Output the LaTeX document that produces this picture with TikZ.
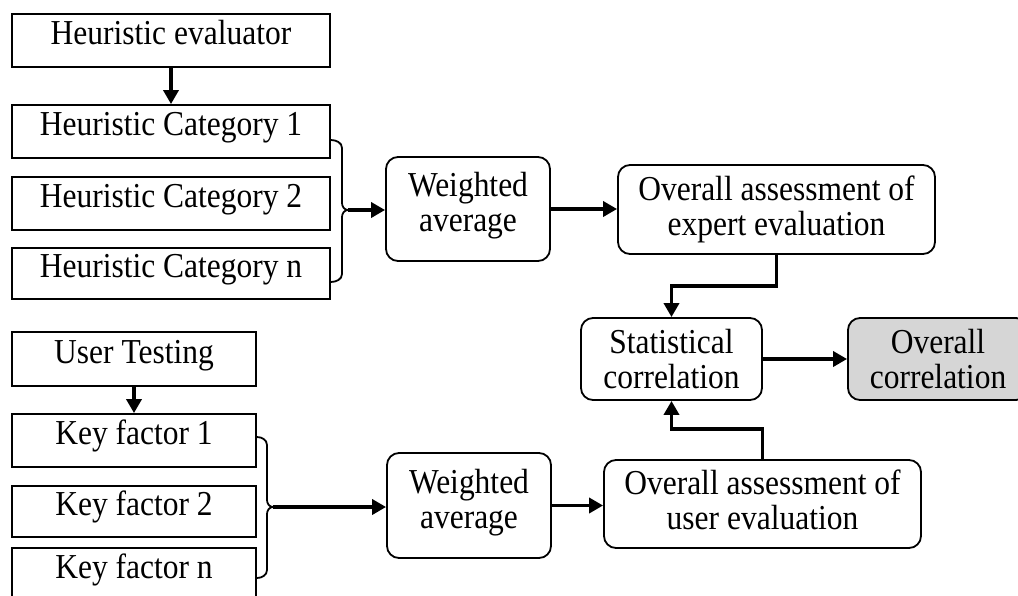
\documentclass[tikz,border=0pt]{standalone}
\usepackage{fontspec}
\setmainfont[FakeStretch=0.9]{Liberation Serif}
\usetikzlibrary{arrows.meta}
\definecolor{boxgray}{RGB}{214,214,214}
% extra depth below the last line, lifting a two-line label inside its box
\newcommand{\liftby}[1]{\rule[-#1]{0pt}{#1}}
\begin{document}
\begin{tikzpicture}[x=1pt,y=-1pt,
  every node/.style={font=\fontsize{35}{35}\selectfont, inner sep=0pt, align=center},
  sqbox/.style={draw, line width=1.8pt, text height=20pt, text depth=12pt},
  rbox/.style={draw, line width=1.8pt, rounded corners=12pt},
  brace/.style={draw, line width=1.8pt},
  arr/.style={line width=3.8pt, -{Triangle[length=14pt,width=15pt]}}]
\useasboundingbox (0,0) rectangle (1018,595);
\clip (0,0) rectangle (1018,595);
\fill[white] (0,0) rectangle (1018,595);

% expert branch
\node[sqbox, minimum width=318pt, minimum height=53pt] (he) at (171,40.5) {Heuristic evaluator};
\node[sqbox, minimum width=318pt, minimum height=53pt] (c1) at (171,131.5) {Heuristic Category 1};
\node[sqbox, minimum width=318pt, minimum height=53pt] (c2) at (171,203.5) {Heuristic Category 2};
\node[sqbox, minimum width=318pt, minimum height=51pt] (cn) at (171,273.5) {Heuristic Category n};

% user branch
\node[sqbox, minimum width=244pt, minimum height=54pt] (ut) at (134,359) {User Testing};
\node[sqbox, minimum width=244pt, minimum height=53pt] (k1) at (134,440.5) {Key factor 1};
\node[sqbox, minimum width=244pt, minimum height=51pt] (k2) at (134,511.5) {Key factor 2};
\node[sqbox, minimum width=244pt, minimum height=53pt] (kn) at (134,574.5) {Key factor n};

% aggregation
\node[rbox, minimum width=164pt, minimum height=104pt] (wa1) at (468,209) {Weighted\\average\liftby{15pt}};
\node[rbox, minimum width=317pt, minimum height=89pt] (ex) at (776.5,209.5) {Overall assessment of\\expert evaluation};
\node[rbox, minimum width=164pt, minimum height=105pt] (wa2) at (469,505.5) {Weighted\\average\liftby{14pt}};
\node[rbox, minimum width=317pt, minimum height=88pt] (ue) at (762.5,504) {Overall assessment of\\user evaluation\liftby{9pt}};
\node[rbox, minimum width=181pt, minimum height=82pt] (st) at (671.5,359) {Statistical\\correlation};
\node[rbox, fill=boxgray, minimum width=180pt, minimum height=82pt] (oc) at (938,359) {Overall\\correlation};

% braces gathering the categories and key factors
\coordinate (b1) at (348,210);
\coordinate (b2) at (273,507);
\draw[brace] (c1.east |- 0,140) to[out=0,in=90] (342,148) -- (342,203)
  to[out=-90,in=180] (b1) to[out=180,in=90] (342,217) -- (342,274)
  to[out=-90,in=0] (cn.east |- 0,282);
\draw[brace] (k1.east |- 0,437) to[out=0,in=90] (267,445) -- (267,500)
  to[out=-90,in=180] (b2) to[out=180,in=90] (267,514) -- (267,570)
  to[out=-90,in=0] (kn.east |- 0,578);

% connectors
\draw[arr] (he.south) -- (c1.north);
\draw[arr] (ut.south) -- (k1.north);
\draw[arr] (b1) -- (b1 -| wa1.west);
\draw[arr] (b2) -- (b2 -| wa2.west);
\draw[arr] (wa1.east) -- (wa1.east -| ex.west);
\draw[arr] (wa2.east) -- (wa2.east -| ue.west);
\draw[arr] (ex.south) -- ++(0,31) -| (st.north);
\draw[arr] (ue.north) -- ++(0,-30) -| (st.south);
\draw[arr] (st.east) -- (oc.west);
\end{tikzpicture}
\end{document}
